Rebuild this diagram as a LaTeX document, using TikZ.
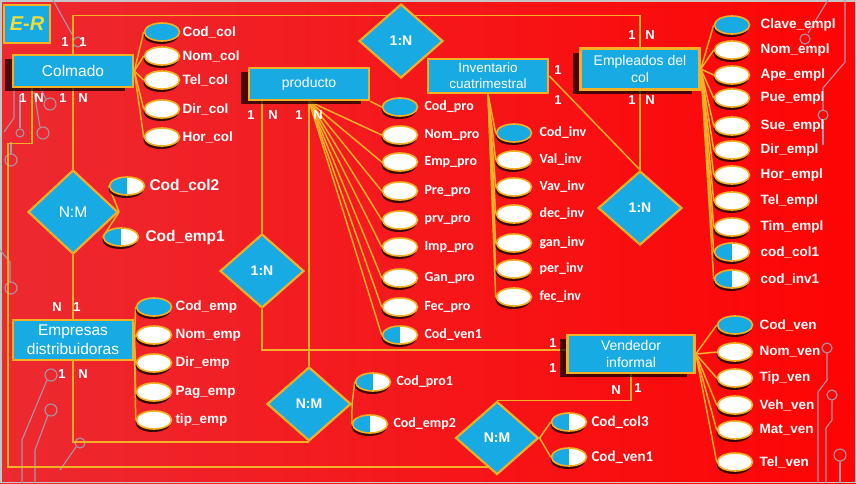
\documentclass[tikz,border=0pt]{standalone}
\usepackage{fontspec}
\setmainfont{Liberation Sans}
\newfontfamily\calib{Carlito}
\usetikzlibrary{shapes.geometric,shadows,positioning}
\definecolor{erblue}{RGB}{24,170,226}
\definecolor{ergold}{RGB}{244,176,38}
\definecolor{eryellow}{RGB}{236,222,62}
\definecolor{ertrace}{RGB}{168,150,165}
\definecolor{erredL}{RGB}{236,42,48}
\definecolor{erredR}{RGB}{254,4,4}

\pgfdeclarelayer{back}
\pgfdeclarelayer{edges}
\pgfsetlayers{back,edges,main}

\tikzset{
  ent/.style={draw=ergold, line width=2.6pt, fill=erblue, text=white, align=center,
    minimum width=120pt, minimum height=32pt, inner sep=1pt, font=\fontsize{14}{17}\selectfont},
  shd/.style={drop shadow={shadow xshift=-8pt, shadow yshift=-4pt, opacity=.7, fill=black}},
  rel/.style={diamond, draw=ergold, line width=2.2pt, fill=erblue, text=white, inner sep=0pt,
    minimum width=84pt, minimum height=74pt, font=\bfseries\fontsize{14}{15}\selectfont},
  attr/.style={ellipse, draw=ergold, line width=1.6pt, fill=white, minimum width=35pt,
    minimum height=18pt, inner sep=0pt,
    drop shadow={shadow xshift=-1pt, shadow yshift=-3pt, opacity=.75, fill=black}},
  keyattr/.style={attr, fill=erblue},
  fkattr/.style={attr, path picture={\fill[erblue] (path picture bounding box.south west)
    rectangle (path picture bounding box.north);}},
  lbl/.style={text=white, inner sep=1pt, font=\bfseries\fontsize{13.5}{14}\selectfont},
  lblc/.style={text=white, inner sep=1pt, font=\calib\bfseries\fontsize{14}{15}\selectfont},
  card/.style={text=white, inner sep=0pt, font=\bfseries\fontsize{13}{14}\selectfont},
  link/.style={draw=ergold, line width=1.5pt},
  trace/.style={draw=ertrace, line width=1.1pt},
}

\begin{document}
\begin{tikzpicture}[x=1pt, y=-1pt]
\useasboundingbox (0,0) rectangle (856,483);

% background and circuit traces
\begin{pgfonlayer}{back}
\shade[left color=erredL, right color=erredR] (0,0) rectangle (856,483);
\draw[gray!45, line width=1.5pt] (0.75,0.75) rectangle (855.25,482.25);
\draw[trace] (53,0) -- (73,36);  \draw[trace] (78,42) circle (5pt);
\draw[trace] (14,88) -- (14,118) -- (4,132);
\draw[trace] (20,95) -- (20,128);  \draw[trace] (20,133) circle (4pt);
\draw[trace] (34,92) -- (40,127);  \draw[trace] (43,133) circle (6pt);
\draw[trace] (40,88) -- (46,99);  \draw[trace] (50,104) circle (6pt);
\draw[trace] (11,142) -- (11,154);  \draw[trace] (11,160) circle (6pt);
\draw[trace] (0,250) -- (10,262) -- (10,282);  \draw[trace] (11,288) circle (6pt);
\draw[trace] (47,380) -- (22,440) -- (22,483);  \draw[trace] (51,375) circle (6pt);
\draw[trace] (48,415) -- (35,450) -- (35,483);  \draw[trace] (51,410) circle (6pt);
\draw[trace] (76,447) -- (60,470);  \draw[trace] (80,443) circle (5pt);
\draw[trace] (828,0) -- (808,33);  \draw[trace] (805,39) circle (5pt);
\draw[trace] (845,0) -- (845,62) -- (823,88) -- (823,110);  \draw[trace] (823,115) circle (5pt);
\draw[trace] (823,120) -- (823,145);
\draw[trace] (827,353) -- (827,380) -- (818,392) -- (818,483);  \draw[trace] (827,348) circle (5pt);
\draw[trace] (832,400) -- (832,420) -- (826,428) -- (826,483);  \draw[trace] (832,395) circle (5pt);
\draw[trace] (840,461) -- (840,483);  \draw[trace] (840,455) circle (6pt);
\end{pgfonlayer}

\node[draw=ergold, line width=2.4pt, fill=erblue, minimum width=46pt, minimum height=38pt,
  text=eryellow, font=\bfseries\itshape\fontsize{20}{21}\selectfont] (er) at (27,24) {E-R};

% entities
\node[ent,shd,font=\fontsize{15.5}{17}\selectfont] (colmado) at (73,71) {Colmado};
\node[ent,shd] (producto) at (309,84) {producto};
\node[ent,minimum height=34pt,font=\fontsize{13.5}{16}\selectfont] (inventario) at (488,76) {Inventario\\cuatrimestral};
\node[ent,shd,minimum width=119pt,minimum height=41pt] (empleados) at (640,69) {Empleados del\\col};
\node[ent,minimum height=40pt,font=\fontsize{15.5}{19}\selectfont] (empresas) at (73,340) {Empresas\\distribuidoras};
\node[ent,shd,minimum width=127pt,minimum height=38pt] (vendedor) at (631,354) {Vendedor\\informal};

% relationships
\node[rel] (rcolemp) at (401,41) {1:N};
\node[rel,minimum width=90pt,minimum height=84pt,font=\fontsize{15.5}{16}\selectfont] (rcolempr) at (73,212) {N:M};
\node[rel] (rprovend) at (262,271) {1:N};
\node[rel] (rinvemp) at (640,208) {1:N};
\node[rel] (rproempr) at (309,404) {N:M};
\node[rel,minimum width=83pt,minimum height=73pt] (rcolvend) at (497,438) {N:M};

\begin{pgfonlayer}{edges}
\draw[link] (colmado.north) -- ++(0,-38) -| (empleados.north);
\draw[link] (colmado) -- (rcolempr) -- (empresas);
\draw[link] ([xshift=-41pt]colmado.south) -- ++(0,55) -| (8,467) -- ([yshift=-29pt]rcolvend.center);
\draw[link] (rcolvend.north) -| (vendedor.south);
\draw[link] ([xshift=-47pt]producto.south) -- (rprovend.north);
\draw[link] (rprovend.south) |- ([yshift=4pt]vendedor.west);
\draw[link] (producto.south) -- (rproempr.north);
\draw[link] (empresas.south) |- (rproempr.south);
\draw[link] (inventario.east) -- (rinvemp.north);
\draw[link] (empleados.south) -- (rinvemp.north);
\end{pgfonlayer}

% attributes
\foreach \s/\y/\t [count=\i] in {keyattr/32/Cod\_col, attr/56/Nom\_col, attr/80/Tel\_col,
    attr/109/Dir\_col, attr/137/Hor\_col}{
  \node[\s] (ac\i) at (162,\y) {};
  \node[lbl,right=1pt of ac\i] (lc\i) {\t};
  \begin{pgfonlayer}{edges}\draw[link] (colmado.east) -- (ac\i.west);\end{pgfonlayer}
}
\foreach \a/\s/\y/\t [count=\i] in {south east/keyattr/107/Cod\_pro, south/attr/135/Nom\_pro,
    south/attr/162/Emp\_pro, south/attr/191/Pre\_pro, south/attr/220/prv\_pro,
    south/attr/247/Imp\_pro, south/attr/278/Gan\_pro, south/attr/307/Fec\_pro,
    south/fkattr/335/Cod\_ven1}{
  \node[\s] (ap\i) at (400,\y) {};
  \node[lblc,right=5pt of ap\i] (lp\i) {\t};
  \begin{pgfonlayer}{edges}\draw[link] (producto.\a) -- (ap\i.west);\end{pgfonlayer}
}
\foreach \s/\y/\t [count=\i] in {keyattr/133/Cod\_inv, attr/160/Val\_inv, attr/187/Vav\_inv,
    attr/214/dec\_inv, attr/243/gan\_inv, attr/269/per\_inv, attr/297/fec\_inv}{
  \node[\s] (ai\i) at (514,\y) {};
  \node[lblc,right=6pt of ai\i] (li\i) {\t};
  \begin{pgfonlayer}{edges}\draw[link] (inventario.south) -- (ai\i.west);\end{pgfonlayer}
}
\foreach \s/\y/\t [count=\i] in {keyattr/25/Clave\_empl, attr/50/Nom\_empl, attr/75/Ape\_empl,
    attr/98/Pue\_empl, attr/126/Sue\_empl, attr/150/Dir\_empl, attr/175/Hor\_empl,
    attr/201/Tel\_empl, attr/227/Tim\_empl, fkattr/252/cod\_col1, fkattr/279/cod\_inv1}{
  \node[\s] (ae\i) at (732,\y) {};
  \node[lbl,right=9pt of ae\i] (le\i) {\t};
  \begin{pgfonlayer}{edges}\draw[link] (empleados.east) -- (ae\i.west);\end{pgfonlayer}
}
\foreach \s/\y/\t [count=\i] in {keyattr/325/Cod\_ven, attr/352/Nom\_ven, attr/378/Tip\_ven,
    attr/405/Veh\_ven, attr/430/Mat\_ven, attr/462/Tel\_ven}{
  \node[\s] (av\i) at (735,\y) {};
  \node[lbl,right=5pt of av\i] (lv\i) {\t};
  \begin{pgfonlayer}{edges}\draw[link] (vendedor.east) -- (av\i.west);\end{pgfonlayer}
}
\foreach \s/\y/\t [count=\i] in {keyattr/307/Cod\_emp, attr/335/Nom\_emp, attr/363/Dir\_emp,
    attr/392/Pag\_emp, attr/420/tip\_emp}{
  \node[\s] (am\i) at (154,\y) {};
  \node[lbl,right=2pt of am\i] (lm\i) {\t};
  \begin{pgfonlayer}{edges}\draw[link] (empresas.east) -- (am\i.west);\end{pgfonlayer}
}

% attributes of the relationships
\node[fkattr] (ar1) at (127,186) {};
\node[lbl,font=\bfseries\fontsize{15.5}{16}\selectfont,right=3pt of ar1] (lr1) {Cod\_col2};
\node[fkattr] (ar2) at (121,237) {};
\node[lbl,font=\bfseries\fontsize{15.5}{16}\selectfont,right=5pt of ar2] (lr2) {Cod\_emp1};
\node[fkattr] (ar3) at (373,382) {};
\node[lblc,right=4pt of ar3] (lr3) {Cod\_pro1};
\node[fkattr] (ar4) at (370,424) {};
\node[lblc,right=4pt of ar4] (lr4) {Cod\_emp2};
\node[fkattr] (ar5) at (569,422) {};
\node[lblc,font=\calib\bfseries\fontsize{15}{16}\selectfont,right=3pt of ar5] (lr5) {Cod\_col3};
\node[fkattr] (ar6) at (569,457) {};
\node[lblc,font=\calib\bfseries\fontsize{15}{16}\selectfont,right=3pt of ar6] (lr6) {Cod\_ven1};
\begin{pgfonlayer}{edges}
\draw[link] (rcolempr.east) -- (ar1.west);
\draw[link] (rcolempr.east) -- (ar2.west);
\draw[link] (rproempr.east) -- (ar3.west);
\draw[link] (rproempr.east) -- (ar4.west);
\draw[link] (rcolvend.east) -- (ar5.west);
\draw[link] (rcolvend.east) -- (ar6.west);
\end{pgfonlayer}

% cardinalities
\foreach \x/\y/\t [count=\i] in {65/42/1, 83/42/1, 632/35/1, 650/35/N, 23/98/1, 39/98/N,
    63/98/1, 83/98/N, 57/307/N, 77/307/1, 62/374/1, 83/374/N, 251/115/1, 273/115/N,
    299/115/1, 318/115/N, 558/70/1, 558/100/1, 632/100/1, 650/100/N, 553/343/1,
    553/368/1, 616/390/N, 638/388/1}{
  \node[card] (k\i) at (\x,\y) {\t};
}
\end{tikzpicture}
\end{document}
